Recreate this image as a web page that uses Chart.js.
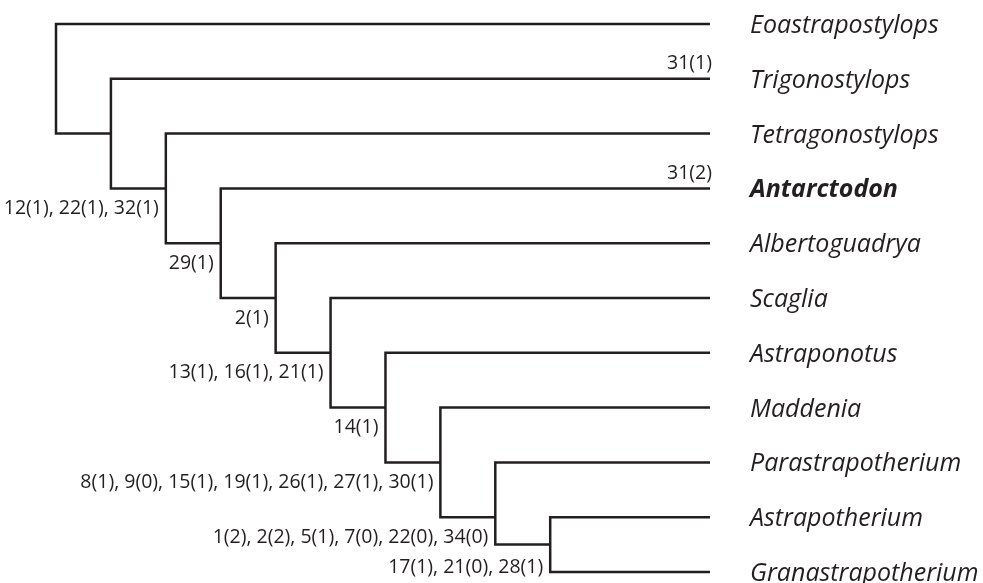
<!DOCTYPE html>
<html>
<head>
<meta charset="utf-8">
<script src="https://cdn.jsdelivr.net/npm/chart.js@4.4.1/dist/chart.umd.min.js"></script>
<style>
  html, body { margin: 0; padding: 0; background: #fff; }
  #wrap { width: 983px; height: 583px; position: relative; }
</style>
</head>
<body>
<div id="wrap"><canvas id="tree"></canvas></div>
<script>
// ===== CLADOGRAM DATA =====
const taxa = [
  'Eoastrapostylops', 'Trigonostylops', 'Tetragonostylops', 'Antarctodon',
  'Albertoguadrya', 'Scaglia', 'Astraponotus', 'Maddenia',
  'Parastrapotherium', 'Astrapotherium', 'Granastrapotherium'
];
const boldTaxa = ['Antarctodon'];
// bottom end (in leaf rows) of each node's vertical bar, node k sits at depth k
const nodeBottoms = [2, 3, 4, 5, 6, 7, 8, 9, 9.5, 10];
// characters on the branch leading to node k
const nodeChars = [
  '', '', '12(1), 22(1), 32(1)', '29(1)', '2(1)', '13(1), 16(1), 21(1)', '14(1)',
  '8(1), 9(0), 15(1), 19(1), 26(1), 27(1), 30(1)',
  '1(2), 2(2), 5(1), 7(0), 22(0), 34(0)', '17(1), 21(0), 28(1)'
];
// characters on terminal branches
const tipChars = ['', '31(1)', '', '31(2)', '', '', '', '', '', '', ''];
const tipDepth = 11.91;

const INK = '#231f20';

// one elbow path per node: tip -> node -> down -> next node
const datasets = nodeBottoms.map((bottom, k) => {
  const last = k === nodeBottoms.length - 1;
  const pts = [
    { x: tipDepth, y: k },
    { x: k, y: k },
    { x: k, y: bottom },
    { x: last ? tipDepth : k + 1, y: bottom }
  ];
  return {
    data: pts,
    showLine: true,
    borderColor: INK,
    borderWidth: 2.5,
    borderJoinStyle: 'miter',
    borderCapStyle: 'butt',
    pointRadius: 0,
    tension: 0,
    clip: false
  };
});

const labelPlugin = {
  id: 'cladeLabels',
  afterDatasetsDraw(chart) {
    const { ctx, scales: { x, y } } = chart;
    ctx.save();
    ctx.fillStyle = INK;

    // taxon names
    ctx.textAlign = 'left';
    ctx.textBaseline = 'alphabetic';
    taxa.forEach((name, i) => {
      const bold = boldTaxa.includes(name);
      ctx.font = (bold ? 'italic bold ' : 'italic ') + '25px "Open Sans"';
      ctx.fillText(name, x.getPixelForValue(tipDepth) + 40, y.getPixelForValue(i) + 9);
    });

    // characters on terminal branches
    ctx.font = '19.5px "Open Sans"';
    ctx.textAlign = 'right';
    ctx.textBaseline = 'middle';
    tipChars.forEach((txt, i) => {
      if (!txt) return;
      ctx.fillText(txt, x.getPixelForValue(tipDepth) + 2, y.getPixelForValue(i) - 15);
    });

    // characters under branches leading to nodes
    nodeChars.forEach((txt, k) => {
      if (!txt) return;
      const drop = k === nodeChars.length - 1 ? 23 : 20;
      ctx.fillText(txt, x.getPixelForValue(k) - 7, y.getPixelForValue(nodeBottoms[k - 1]) + drop);
    });
    ctx.restore();
  }
};

new Chart(document.getElementById('tree'), {
  type: 'scatter',
  data: { datasets },
  options: {
    responsive: true,
    maintainAspectRatio: false,
    animation: false,
    layout: { padding: { left: 56, right: 273, top: 24, bottom: 11 } },
    plugins: { legend: { display: false }, tooltip: { enabled: false } },
    scales: {
      x: { type: 'linear', min: 0, max: tipDepth, display: false },
      y: { type: 'linear', min: 0, max: 10, reverse: true, display: false }
    }
  },
  plugins: [labelPlugin]
});
</script>
</body>
</html>
